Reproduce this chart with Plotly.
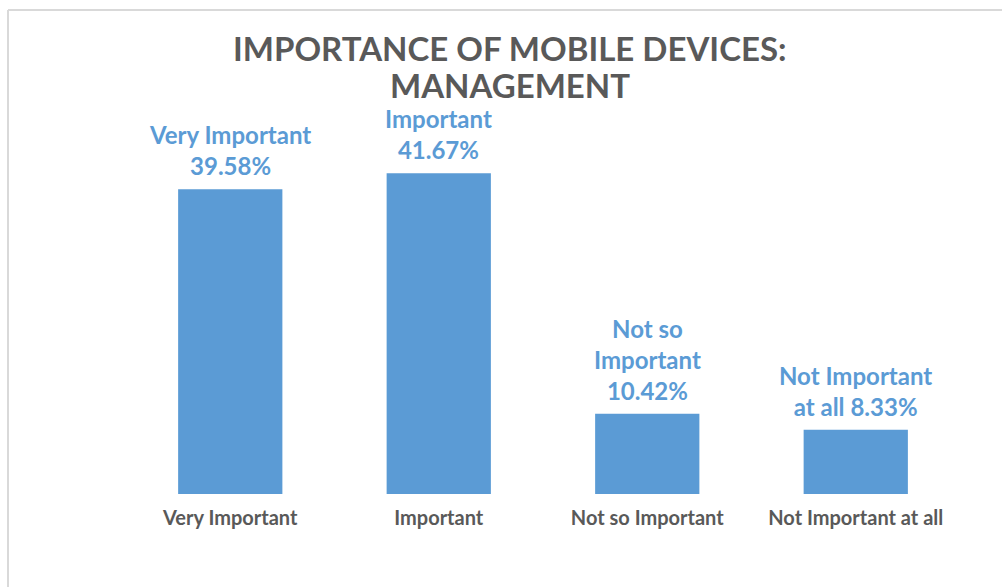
import plotly.graph_objects as go

# Survey results: importance of mobile devices for management
categories = ["Very Important", "Important", "Not so Important", "Not Important at all"]
shares = [39.58, 41.67, 10.42, 8.33]
label_texts = ["Very Important", "Important", "Not so<br>Important", "Not Important<br>at all"]
title_lines = ["IMPORTANCE OF MOBILE DEVICES:", "MANAGEMENT"]

BLUE = "#5B9BD5"
GREY = "#595959"
FONT = "Lato"

W, H = 1002, 587
ML, MR, MT, MB = 126, 42, 109, 93

fig = go.Figure(
    go.Bar(
        x=categories,
        y=shares,
        width=0.5,
        marker=dict(color=BLUE, line=dict(width=0)),
        hoverinfo="skip",
    )
)

# value labels above each bar
for cat, val, name in zip(categories, shares, label_texts):
    sep = " " if name.endswith("at all") else "<br>"
    fig.add_annotation(
        x=cat, y=val, text=f"{name}{sep}{val:.2f}%", showarrow=False,
        yanchor="bottom", yshift=7,
        font=dict(family=FONT, size=24, color=BLUE, weight="bold"),
    )


def px_to_paper(px, py):
    return (px - ML) / (W - ML - MR), (H - MB - py) / (H - MT - MB)


# thin frame on the top and left edges of the chart area
x0, y0 = px_to_paper(8, 10)
x1, y1 = px_to_paper(W + 5, H + 5)
frame = dict(type="line", xref="paper", yref="paper",
             line=dict(color="#D9D9D9", width=2), layer="below")
fig.add_shape(x0=x0, y0=y0, x1=x1, y1=y0, **frame)
fig.add_shape(x0=x0, y0=y0, x1=x0, y1=y1, **frame)

# chart title, one annotation per line
for line, cy in zip(title_lines, (48, 85)):
    tx, ty = px_to_paper(510, cy)
    fig.add_annotation(
        x=tx, y=ty, xref="paper", yref="paper", showarrow=False,
        xanchor="center", yanchor="middle", text=line,
        font=dict(family=FONT, size=33, color=GREY, weight="bold"),
    )

fig.update_layout(
    width=W, height=H,
    margin=dict(l=ML, r=MR, t=MT, b=MB),
    paper_bgcolor="white", plot_bgcolor="white",
    showlegend=False,
    bargap=0.5,
    xaxis=dict(
        showgrid=False, showline=False, zeroline=False, ticks="",
        ticklabelstandoff=10,
        tickfont=dict(family=FONT, size=20, color=GREY, weight="bold"),
    ),
    yaxis=dict(range=[0, 50], visible=False, showgrid=False),
)

fig.write_html("out.html")
